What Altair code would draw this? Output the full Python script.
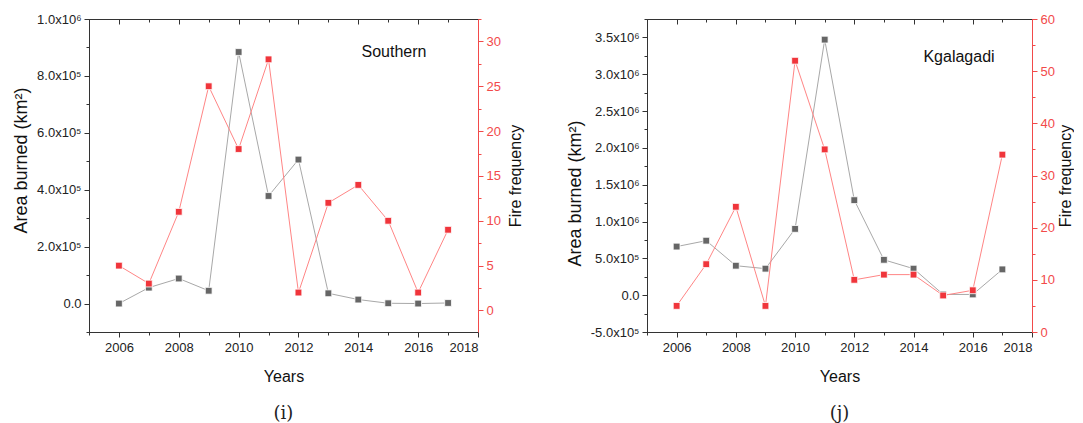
import altair as alt
import pandas as pd

# ---------------- data ----------------
years = [2006, 2007, 2008, 2009, 2010, 2011, 2012, 2013, 2014, 2015, 2016, 2017]

south_area = [0.0, 0.56e5, 0.88e5, 0.45e5, 8.84e5, 3.78e5, 5.06e5, 0.36e5, 0.14e5, 0.01e5, 0.0, 0.02e5]
south_fire = [5, 3, 11, 25, 18, 28, 2, 12, 14, 10, 2, 9]

kg_area = [0.66e6, 0.74e6, 0.40e6, 0.36e6, 0.90e6, 3.47e6, 1.29e6, 0.48e6, 0.36e6, 0.01e6, 0.01e6, 0.35e6]
kg_fire = [5, 13, 24, 5, 52, 35, 10, 11, 11, 7, 8, 34]

year_major = [2006, 2008, 2010, 2012, 2014, 2016, 2018]
year_minor = [2005, 2006, 2007, 2008, 2009, 2010, 2011, 2012, 2013, 2014, 2015, 2016, 2017, 2018]

south_area_ticks = [0, 200000, 400000, 600000, 800000, 1000000]
south_area_labels = ["0.0", "2.0x10⁵", "4.0x10⁵", "6.0x10⁵", "8.0x10⁵", "1.0x10⁶"]
south_area_minor = [-100000, 0, 100000, 200000, 300000, 400000, 500000, 600000, 700000, 800000, 900000, 1000000]
south_fire_ticks = [0, 5, 10, 15, 20, 25, 30]
south_fire_minor = [-2.5, 0, 2.5, 5, 7.5, 10, 12.5, 15, 17.5, 20, 22.5, 25, 27.5, 30, 32.5]

kg_area_ticks = [-500000, 0, 500000, 1000000, 1500000, 2000000, 2500000, 3000000, 3500000]
kg_area_labels = ["-5.0x10⁵", "0.0", "5.0x10⁵", "1.0x10⁶", "1.5x10⁶", "2.0x10⁶",
                  "2.5x10⁶", "3.0x10⁶", "3.5x10⁶"]
kg_area_minor = [-500000, -250000, 0, 250000, 500000, 750000, 1000000, 1250000, 1500000,
                 1750000, 2000000, 2250000, 2500000, 2750000, 3000000, 3250000, 3500000, 3750000]
kg_fire_ticks = [0, 10, 20, 30, 40, 50, 60]
kg_fire_minor = [0, 5, 10, 15, 20, 25, 30, 35, 40, 45, 50, 55, 60]

# ---------------- styles ----------------
FONT = "Liberation Sans"
GRAY_LINE = "#a8a8a8"
GRAY_PT = "#666666"
RED_LINE = "#ff8585"
RED_PT = "#f0353b"
RED_AXIS = "#f24a4a"
DARK = "#333333"


def lab_expr(vals, labs):
    expr = "''"
    for v, l in reversed(list(zip(vals, labs))):
        expr = f"abs(datum.value - ({v})) < 1 ? '{l}' : " + expr
    return expr


def panel(area, fire, area_dom, a_ticks, a_labels, a_minor,
          fire_dom, f_ticks, f_minor, name, tag, w, h, tx, ty, title_y, r_pad):
    df = pd.DataFrame({"year": years, "area": area, "fire": fire})
    base = alt.Chart(df)
    xs = alt.Scale(domain=[2005, 2018], nice=False, zero=False)
    ys_a = alt.Scale(domain=area_dom, nice=False, zero=False)
    ys_f = alt.Scale(domain=fire_dom, nice=False, zero=False)

    gray = base.mark_line(
        color=GRAY_LINE, strokeWidth=1,
        point=alt.OverlayMarkDef(shape="square", size=46, filled=True, color=GRAY_PT,
                                 stroke="white", strokeWidth=0.8, opacity=1),
    ).encode(
        x=alt.X("year:Q", scale=xs, axis=alt.Axis(
            orient="bottom", values=year_major, format="d", tickSize=5, labelPadding=4,
            title="Years", titlePadding=14, titleFontSize=16, domainColor=DARK,
            tickColor=DARK, labelColor="#222", labelFontSize=13, grid=False)),
        y=alt.Y("area:Q", scale=ys_a, axis=alt.Axis(
            orient="left", values=a_ticks, labelExpr=lab_expr(a_ticks, a_labels),
            tickSize=5, labelPadding=3, title="Area burned (km²)", titleFontSize=18,
            titlePadding=6, titleY=title_y, domainColor=DARK, tickColor=DARK,
            labelColor="#222", labelFontSize=13, grid=False)),
    )
    red = base.mark_line(
        color=RED_LINE, strokeWidth=1,
        point=alt.OverlayMarkDef(shape="square", size=46, filled=True, color=RED_PT,
                                 stroke="white", strokeWidth=0.8, opacity=1),
    ).encode(
        x=alt.X("year:Q", scale=xs, axis=alt.Axis(
            orient="top", values=year_major, labels=False, domain=False, offset=-5,
            tickSize=5, tickColor=DARK, title=None, grid=False)),
        y=alt.Y("fire:Q", scale=ys_f, axis=alt.Axis(
            orient="right", values=f_ticks, tickSize=5, labelPadding=3,
            title="Fire frequency", titleFontSize=16, titlePadding=r_pad, titleAngle=270,
            titleBaseline="top",
            domainColor=RED_AXIS, tickColor=RED_AXIS, labelColor=RED_AXIS,
            labelFontSize=13, grid=False)),
    )
    minor_a = base.mark_point(opacity=0).encode(
        x=alt.X("year:Q", scale=xs, axis=alt.Axis(
            orient="bottom", values=year_minor, labels=False, domain=False, tickSize=3,
            tickColor=DARK, title=None, grid=False)),
        y=alt.Y("area:Q", scale=ys_a, axis=alt.Axis(
            orient="left", values=a_minor, labels=False, domain=False, tickSize=3,
            tickColor=DARK, title=None, grid=False)),
    )
    minor_f = base.mark_point(opacity=0).encode(
        x=alt.X("year:Q", scale=xs, axis=alt.Axis(
            orient="top", values=year_minor, labels=False, domain=False, offset=-3,
            tickSize=3, tickColor=DARK, title=None, grid=False)),
        y=alt.Y("fire:Q", scale=ys_f, axis=alt.Axis(
            orient="right", values=f_minor, labels=False, domain=False, tickSize=3,
            tickColor=RED_AXIS, title=None, grid=False)),
    )
    label = alt.Chart(pd.DataFrame({"t": [name]})).mark_text(
        font=FONT, fontSize=16, color="#111", align="center", baseline="middle"
    ).encode(text="t:N", x=alt.value(tx), y=alt.value(ty))

    return alt.layer(gray, red, minor_a, minor_f, label).resolve_scale(
        y="independent"
    ).resolve_axis(x="independent", y="independent").properties(
        width=w, height=h,
        title=alt.TitleParams(tag, orient="bottom", font="DejaVu Serif", fontSize=18,
                              fontWeight="normal", color="#222", offset=21),
    )


left = panel(south_area, south_fire, [-100000, 1000000], south_area_ticks, south_area_labels,
             south_area_minor, [-2.4, 32.5], south_fire_ticks, south_fire_minor,
             "Southern", "(i)", 389, 313, 305, 33, 141, 7)
right = panel(kg_area, kg_fire, [-500000, 3750000], kg_area_ticks, kg_area_labels,
              kg_area_minor, [0, 60], kg_fire_ticks, kg_fire_minor,
              "Kgalagadi", "(j)", 385, 313, 312, 38, 174, 3)

chart = alt.hconcat(left, right, spacing=41).properties(
    padding={"left": 4, "top": 4, "right": 0, "bottom": 0}
).configure(font=FONT).configure_view(stroke=DARK, strokeWidth=1).configure_axis(
    titleFontWeight="normal", titleColor="#111", labelFont=FONT, titleFont=FONT
)

chart.save("out.html", embed_options={"renderer": "svg", "actions": False})
